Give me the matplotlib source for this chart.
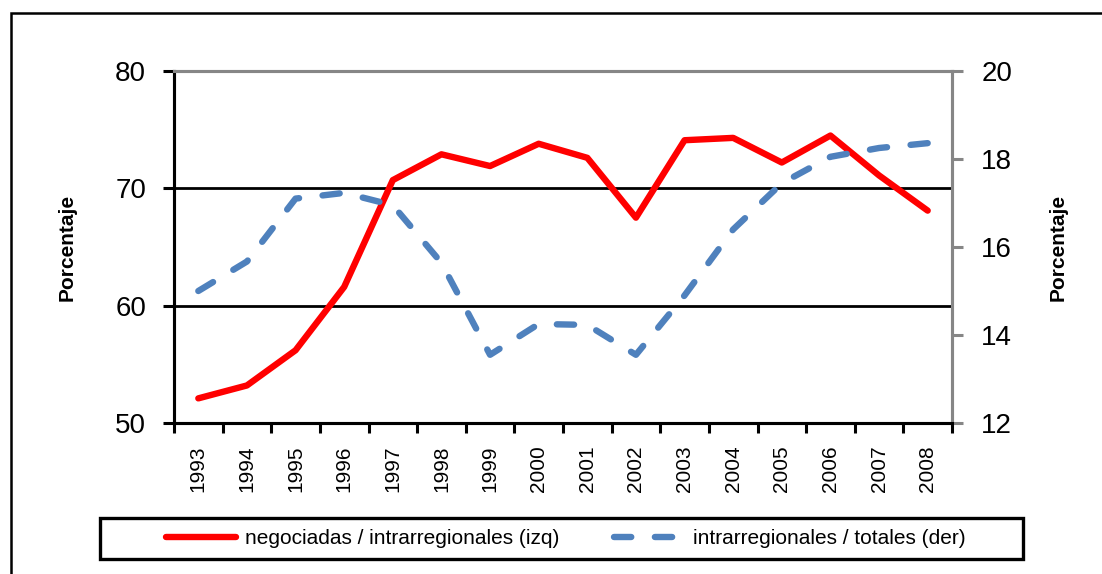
import numpy as np
import matplotlib
matplotlib.use("Agg")
import matplotlib.pyplot as plt
from matplotlib.patches import Rectangle
from matplotlib.lines import Line2D

plt.rcParams["font.family"] = ["Liberation Sans", "DejaVu Sans"]

YEARS = ["1993", "1994", "1995", "1996", "1997", "1998", "1999", "2000",
         "2001", "2002", "2003", "2004", "2005", "2006", "2007", "2008"]
NEGOCIADAS = [52.1, 53.2, 56.2, 61.6, 70.7, 72.9, 71.9, 73.8,
              72.6, 67.5, 74.1, 74.3, 72.2, 74.5, 71.1, 68.1]
INTRA_TOT = [15.0, 15.67, 17.1, 17.23, 16.95, 15.64, 13.55, 14.25,
             14.23, 13.55, 14.9, 16.4, 17.45, 18.05, 18.25, 18.36]
LEFT_TICKS = [50, 60, 70, 80]
RIGHT_TICKS = [12, 14, 16, 18, 20]
LABEL_RED = "negociadas / intrarregionales (izq)"
LABEL_BLUE = "intrarregionales / totales (der)"

RED = "#FF0000"
BLUE = "#4F81BD"
GRAY = "#868686"
DASH = (2.7, 3.7)

W, H = 1102, 574
fig = plt.figure(figsize=(W / 100, H / 100), dpi=100)
ax = fig.add_axes([174 / W, 1 - 423 / H, (952 - 174) / W, (423 - 71) / H])
ax2 = ax.twinx()

x = np.arange(len(YEARS))
ax.set_xlim(-0.5, len(YEARS) - 0.5)

# lineas de cuadricula
for v in [60, 70]:
    ax.axhline(v, color="black", lw=2.0, zorder=1)

ax.plot(x, NEGOCIADAS, color=RED, lw=4.6, solid_joinstyle="round",
        solid_capstyle="round", zorder=3)
ax2.plot(x, INTRA_TOT, color=BLUE, lw=4.6, dashes=DASH,
         dash_capstyle="round", zorder=3)

ax.set_ylim(50, 80)
ax.set_yticks(LEFT_TICKS)
ax.set_yticklabels([str(t) for t in LEFT_TICKS], fontsize=20)
ax2.set_ylim(12, 20)
ax2.set_yticks(RIGHT_TICKS)
ax2.set_yticklabels([str(t) for t in RIGHT_TICKS], fontsize=20)

ax.set_xticks(x)
ax.set_xticklabels(YEARS, rotation=90, fontsize=15)
ax.set_xticks(np.arange(len(YEARS) + 1) - 0.5, minor=True)
ax.tick_params(axis="x", which="major", length=0, pad=16)
ax.tick_params(axis="x", which="minor", length=7, width=2.2, color="black")
ax.tick_params(axis="y", length=8, width=2.2, color="black", pad=12)
ax2.tick_params(axis="y", length=8, width=2.2, color=GRAY, pad=13)

for a in (ax, ax2):
    a.spines["left"].set_color("black")
    a.spines["left"].set_linewidth(2.2)
    a.spines["bottom"].set_color("black")
    a.spines["bottom"].set_linewidth(2.2)
    a.spines["top"].set_color(GRAY)
    a.spines["top"].set_linewidth(2.2)
    a.spines["right"].set_color(GRAY)
    a.spines["right"].set_linewidth(2.2)

ax.set_ylabel("Porcentaje", fontsize=15, fontweight="bold")
ax.yaxis.set_label_coords(-0.125, 0.5)
ax2.set_ylabel("Porcentaje", fontsize=15, fontweight="bold")
ax2.yaxis.set_label_coords(1.124, 0.5)

# recuadro de la leyenda
fig.patches.append(Rectangle((100 / W, 1 - 559 / H), 923 / W, 41 / H,
                             transform=fig.transFigure, fill=False,
                             edgecolor="black", lw=2.4))
handles = [Line2D([], [], color=RED, lw=4.6, solid_capstyle="round"),
           Line2D([], [], color=BLUE, lw=4.6, dashes=DASH,
                  dash_capstyle="round")]
fig.legend(handles, [LABEL_RED, LABEL_BLUE], loc="center",
           bbox_to_anchor=(566 / W, 1 - 538.5 / H), ncol=2, frameon=False,
           fontsize=15, handlelength=3.36, handletextpad=0.43,
           columnspacing=2.64)

# marco exterior del grafico
fig.patches.append(Rectangle((11 / W, -0.1), 1.2, 1.1 - 13 / H,
                             transform=fig.transFigure, fill=False,
                             edgecolor="black", lw=1.8))

fig.savefig("out.png", dpi=100)
